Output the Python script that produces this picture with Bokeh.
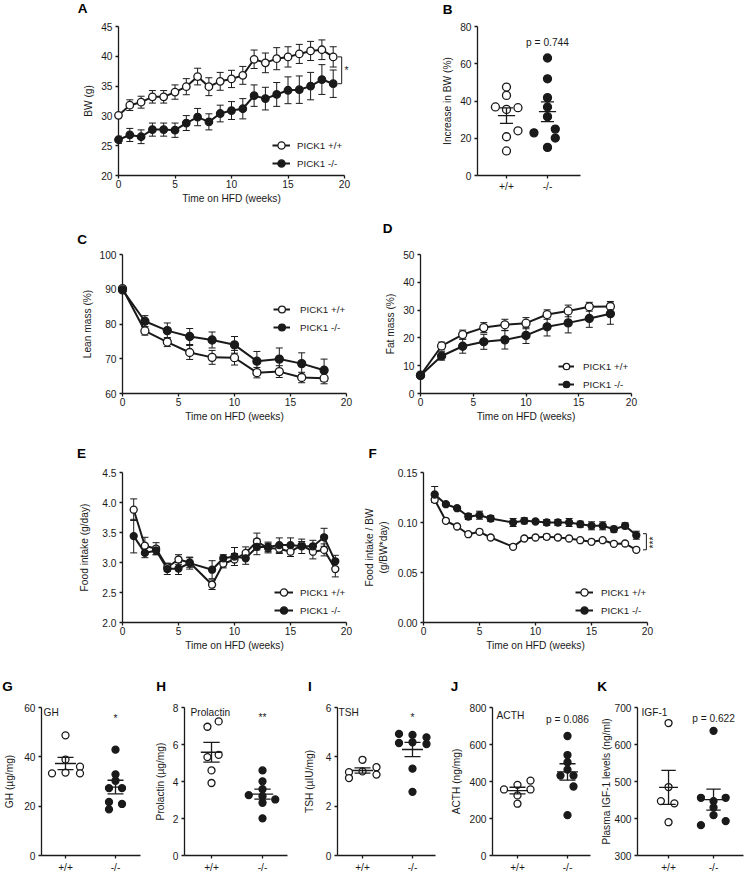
import math
import numpy as np
from bokeh.plotting import figure
from bokeh.models import (Range1d, FixedTicker, ColumnDataSource, Whisker, TeeHead,
                          Legend, LegendItem, NumeralTickFormatter)
from bokeh.core.properties import value
from bokeh.layouts import row, column
from bokeh.embed import file_html
from bokeh.resources import INLINE

FONT = "Liberation Sans"
FS = "10.2px"
LFS = "9.8px"
INK = "#1a1a1a"

# ---------------- data ----------------
series_names = ["PICK1 +/+", "PICK1 -/-"]
genotypes = ["+/+", "-/-"]

# A: body weight (g)
bw_weeks = [0, 1, 2, 3, 4, 5, 6, 7, 8, 9, 10, 11, 12, 13, 14, 15, 16, 17, 18, 19]
bw_wt = [30.1, 31.8, 32.3, 33.2, 33.2, 34.0, 34.9, 36.6, 34.9, 35.8, 36.2, 36.8, 39.5, 38.9, 39.6, 39.9, 40.4, 40.9, 41.1, 39.9]
bw_wt_sem = [0.4, 0.9, 1.0, 1.05, 1.05, 1.2, 1.35, 1.4, 1.5, 1.5, 1.45, 1.5, 1.55, 1.65, 1.85, 1.7, 1.6, 1.6, 1.65, 1.7]
bw_ko = [26.0, 26.8, 26.5, 27.7, 27.7, 27.6, 28.8, 29.8, 29.0, 30.4, 30.9, 31.2, 33.4, 32.9, 33.6, 34.3, 34.4, 35.0, 36.1, 35.4]
bw_ko_sem = [0.6, 1.1, 1.15, 1.1, 1.1, 1.2, 1.25, 1.45, 1.35, 1.4, 1.5, 1.7, 1.8, 1.9, 2.0, 2.25, 2.3, 2.3, 2.5, 2.3]

# B: increase in BW (%)
bwinc_wt = [47.5, 43.0, 36.8, 35.5, 36.4, 24.0, 20.8, 13.2]
bwinc_ko = [63.1, 51.9, 41.8, 36.8, 31.6, 24.9, 22.9, 20.1, 15.1]

# C: lean mass (%)
comp_weeks = [0, 2, 4, 6, 8, 10, 12, 14, 16, 18]
lean_wt = [90.2, 78.0, 74.8, 71.8, 70.4, 70.3, 66.0, 66.3, 64.6, 64.4]
lean_wt_sem = [0.5, 1.2, 1.3, 2.0, 2.0, 2.1, 1.5, 1.7, 1.5, 1.6]
lean_ko = [89.8, 80.8, 78.1, 76.4, 75.4, 74.0, 69.3, 69.9, 68.6, 66.7]
lean_ko_sem = [0.5, 1.6, 2.2, 2.3, 2.3, 2.4, 2.8, 3.2, 3.1, 3.2]

# D: fat mass (%)
fat_wt = [6.6, 17.1, 21.2, 23.7, 24.7, 25.3, 28.4, 29.7, 31.2, 31.3]
fat_wt_sem = [0.5, 1.4, 1.6, 1.8, 2.0, 2.0, 1.7, 2.1, 1.6, 1.8]
fat_ko = [6.5, 13.5, 17.0, 18.6, 19.3, 20.9, 24.0, 25.4, 27.0, 28.7]
fat_ko_sem = [0.5, 1.5, 2.5, 2.7, 3.3, 2.9, 3.3, 3.6, 3.2, 3.8]

# E: food intake (g/day)
food_weeks = [1, 2, 3, 4, 5, 6, 8, 9, 10, 11, 12, 13, 14, 15, 16, 17, 18, 19]
food_wt = [3.88, 3.28, 3.23, 2.92, 3.05, 3.00, 2.63, 2.98, 3.05, 3.16, 3.35, 3.24, 3.23, 3.18, 3.29, 3.18, 3.21, 2.89]
food_wt_sem = [0.18, 0.14, 0.10, 0.07, 0.08, 0.08, 0.08, 0.07, 0.10, 0.10, 0.14, 0.08, 0.08, 0.08, 0.06, 0.12, 0.10, 0.13]
food_ko = [3.44, 3.16, 3.20, 2.89, 2.90, 2.99, 2.88, 3.07, 3.10, 3.07, 3.26, 3.26, 3.29, 3.29, 3.27, 3.27, 3.42, 3.02]
food_ko_sem = [0.28, 0.08, 0.07, 0.09, 0.10, 0.10, 0.15, 0.06, 0.15, 0.10, 0.13, 0.08, 0.12, 0.12, 0.12, 0.10, 0.15, 0.10]

# F: food intake / BW
fbw_wt = [0.1227, 0.1017, 0.0960, 0.0883, 0.0907, 0.0850, 0.0757, 0.0840, 0.0850, 0.0857, 0.0850, 0.0840, 0.0823, 0.0807, 0.0823, 0.0787, 0.0790, 0.0727]
fbw_wt_sem = [0.0015, 0.001, 0.001, 0.001, 0.001, 0.001, 0.001, 0.001, 0.001, 0.0025, 0.002, 0.001, 0.001, 0.001, 0.001, 0.001, 0.001, 0.001]
fbw_ko = [0.1280, 0.1183, 0.1143, 0.1060, 0.1073, 0.1040, 0.1000, 0.1017, 0.1010, 0.1000, 0.1000, 0.1000, 0.0983, 0.0967, 0.0967, 0.0933, 0.0967, 0.0873]
fbw_ko_sem = [0.008, 0.0015, 0.0015, 0.003, 0.004, 0.003, 0.004, 0.003, 0.002, 0.003, 0.003, 0.004, 0.003, 0.004, 0.004, 0.003, 0.003, 0.004]

# G-K: pituitary hormones / plasma IGF-1
gh_wt = [48.7, 38.9, 33.3, 33.6, 36.0, 33.3]
gh_ko = [42.9, 32.9, 30.3, 27.3, 27.3, 21.7, 20.9, 18.7]
prl_wt = [6.96, 7.25, 5.32, 5.44, 4.60, 3.92]
prl_ko = [4.60, 4.01, 3.58, 3.26, 3.20, 3.03, 2.85, 2.01]
tsh_wt = [3.88, 3.38, 3.14, 3.41, 3.58, 3.28]
tsh_ko = [4.93, 4.89, 4.79, 4.56, 4.59, 4.52, 3.52, 2.58]
acth_wt = [382, 405, 357, 357, 325, 280]
acth_ko = [646, 543, 504, 432, 432, 464, 373, 218]
igf_wt = [658, 485, 447, 441, 390]
igf_ko = [637, 456, 456, 447, 430, 409, 382, 393]

# horizontal scatter (beeswarm) offsets of the dots, in category units (layout only)
bwinc_wt_dx = [0, 0, -0.27, 0, 0.28, 0.28, 0, 0]
bwinc_ko_dx = [0, 0, 0, 0, 0, 0.19, -0.33, 0.19, 0]
gh_wt_dx = [0, 0, -0.27, 0, 0.29, 0.29]
gh_ko_dx = [0, 0, 0, -0.13, 0.13, -0.13, 0.13, -0.13]
prl_wt_dx = [-0.08, 0.14, -0.08, 0.14, 0, 0]
prl_ko_dx = [0, 0, 0, -0.27, 0, 0.25, 0, 0]
tsh_wt_dx = [0, -0.27, -0.27, 0, 0.28, 0.28]
tsh_ko_dx = [-0.27, 0, 0.28, -0.27, 0, 0.28, 0, 0]
acth_wt_dx = [0, 0.26, -0.27, 0.26, 0, 0]
acth_ko_dx = [0, 0, 0, -0.14, 0.12, 0, 0.12, 0]
igf_wt_dx = [0, 0, -0.17, 0.13, 0]
igf_ko_dx = [0, -0.28, 0.27, 0, 0, 0, -0.28, 0.27]


# ---------------- helpers ----------------
FRAMES = {}


def make_fig(w, h, left, right, top, bottom, xr, yr, xticks, yticks,
             xlabel, ylabel, ylab_standoff, xlab_standoff=2, xlab_overrides=None,
             xtick_standoff=1):
    p = figure(width=w, height=h, output_backend="svg", toolbar_location=None,
               x_range=Range1d(*xr), y_range=Range1d(*yr),
               min_border_left=left, min_border_right=right,
               min_border_top=top, min_border_bottom=bottom)
    FRAMES[id(p)] = (w - left - right, h - top - bottom)
    p.outline_line_color = None
    p.xgrid.visible = False
    p.ygrid.visible = False
    p.background_fill_color = "white"
    p.border_fill_color = "white"
    p.xaxis.ticker = FixedTicker(ticks=xticks, minor_ticks=[])
    p.yaxis.ticker = FixedTicker(ticks=yticks, minor_ticks=[])
    for ax in (p.xaxis[0], p.yaxis[0]):
        ax.axis_line_color = INK
        ax.axis_line_width = 1.3
        ax.major_tick_line_color = INK
        ax.major_tick_line_width = 1.3
        ax.major_tick_out = 3
        ax.major_tick_in = 0
        ax.minor_tick_line_color = None
        ax.major_label_text_font = FONT
        ax.major_label_text_font_size = FS
        ax.major_label_text_color = INK
        ax.axis_label_text_font = FONT
        ax.axis_label_text_font_size = FS
        ax.axis_label_text_font_style = "normal"
        ax.axis_label_text_color = INK
        ax.major_label_standoff = 3
    p.xaxis[0].major_label_standoff = xtick_standoff
    if xlabel:
        p.xaxis[0].axis_label = xlabel
        p.xaxis[0].axis_label_standoff = xlab_standoff
    if ylabel:
        p.yaxis[0].axis_label = ylabel
        p.yaxis[0].axis_label_standoff = ylab_standoff
    if xlab_overrides:
        p.xaxis[0].major_label_overrides = xlab_overrides
    return p


def px_text(p, text, sx, sy, size=FS, bold=False, align="center", angle=0.0,
            x_data=None, y_data=None):
    """Text placed by pixel offset from the frame's bottom-left corner (unclipped)."""
    fw, fh = FRAMES[id(p)]
    xr, yr = p.x_range, p.y_range
    x = x_data if x_data is not None else xr.start + sx * (xr.end - xr.start) / fw
    y = y_data if y_data is not None else yr.start + sy * (yr.end - yr.start) / fh
    p.text(x=[x], y=[y], text=[text], text_font=value(FONT), text_font_size=value(size),
           text_font_style="bold" if bold else "normal", text_color="black" if bold else INK,
           text_align=align, text_baseline="middle", angle=angle, level="overlay")


def letter(p, text, sx, sy):
    px_text(p, text, sx, sy, size="13.5px", bold=True)


def time_series(p, x, wt, wt_err, ko, ko_err, msize):
    rends = []
    for y, e, filled in ((wt, wt_err, False), (ko, ko_err, True)):
        lo = [a - b for a, b in zip(y, e)]
        hi = [a + b for a, b in zip(y, e)]
        src = ColumnDataSource(dict(x=x, y=y, lo=lo, hi=hi))
        p.add_layout(Whisker(base="x", lower="lo", upper="hi", source=src,
                             line_color=INK, line_width=1,
                             upper_head=TeeHead(size=7, line_color=INK, line_width=1),
                             lower_head=TeeHead(size=7, line_color=INK, line_width=1)))
        lr = p.line("x", "y", source=src, line_color=INK, line_width=2)
        sr = p.scatter("x", "y", source=src, marker="circle", size=msize,
                       fill_color=INK if filled else "white", line_color=INK,
                       line_width=1.3, level="overlay")
        rends.append([lr, sr])
    return rends


def add_legend(p, rends, vx, vy, standoff, gw):
    leg = Legend(items=[LegendItem(label=series_names[0], renderers=rends[0]),
                        LegendItem(label=series_names[1], renderers=rends[1])],
                 location=(vx, vy), orientation="vertical", padding=0, margin=0,
                 spacing=-2, glyph_width=gw, glyph_height=18, label_height=18,
                 label_standoff=standoff, label_text_font=FONT,
                 label_text_font_size=LFS, label_text_color=INK,
                 border_line_alpha=0, background_fill_alpha=0)
    p.add_layout(leg)


def dot_groups(p, wt, wt_dx, ko, ko_dx, msize):
    for i, (vals, dx, filled) in enumerate(((wt, wt_dx, False), (ko, ko_dx, True))):
        c = i + 1
        xs = [c + d for d in dx]
        p.scatter(xs, vals, marker="circle", size=msize,
                  fill_color=INK if filled else "white", line_color=INK, line_width=1.3)
        m = float(np.mean(vals))
        s = float(np.std(vals, ddof=1) / math.sqrt(len(vals)))
        p.segment(x0=[c - 0.21, c - 0.16, c - 0.16, c], y0=[m, m + s, m - s, m - s],
                  x1=[c + 0.21, c + 0.16, c + 0.16, c], y1=[m, m + s, m - s, m + s],
                  line_color=INK, line_width=1.3)


cat_ticks = [1, 2]
cat_labels = {1: genotypes[0], 2: genotypes[1]}
XL = "Time on HFD (weeks)"

# ---------------- A ----------------
pA = make_fig(372, 213, 118, 28, 26, 38, (0, 20), (20, 45), [0, 5, 10, 15, 20],
              [20, 25, 30, 35, 40, 45], XL, "BW (g)", 4)
rA = time_series(pA, bw_weeks, bw_wt, bw_wt_sem, bw_ko, bw_ko_sem, 7.5)
add_legend(pA, rA, 154, 3, 7, 18)
pA.segment(x0=[19.75, 19.4, 19.4], y0=[bw_ko[-1], bw_wt[-1], bw_ko[-1]],
           x1=[19.75, 19.75, 19.75], y1=[bw_wt[-1], bw_wt[-1], bw_ko[-1]],
           line_color=INK, line_width=1)
px_text(pA, "*", 228, 0, y_data=(bw_wt[-1] + bw_ko[-1]) / 2)
letter(pA, "A", -36, 167)

# ---------------- B ----------------
pB = make_fig(373, 213, 105, 165, 25, 38, (0.293, 2.805), (0, 80), cat_ticks,
              [0, 20, 40, 60, 80], None, "Increase in BW (%)", 4, xlab_overrides=cat_labels,
              xtick_standoff=2)
dot_groups(pB, bwinc_wt, bwinc_wt_dx, bwinc_ko, bwinc_ko_dx, 8)
px_text(pB, "p = 0.744", 0, 134, x_data=2)
letter(pB, "B", -30, 167)

# ---------------- C ----------------
pC = make_fig(372, 219, 122, 26, 31, 39, (0, 20), (60, 100), [0, 5, 10, 15, 20],
              [60, 70, 80, 90, 100], XL, "Lean mass (%)", 4)
rC = time_series(pC, comp_weeks, lean_wt, lean_wt_sem, lean_ko, lean_ko_sem, 8)
add_legend(pC, rC, 151, 57, 10, 17)
letter(pC, "C", -40.5, 165)

# ---------------- D ----------------
pD = make_fig(373, 219, 48, 114, 41, 39, (0, 20), (0, 50), [0, 5, 10, 15, 20],
              [0, 10, 20, 30, 40, 50], XL, "Fat mass (%)", 4)
rD = time_series(pD, comp_weeks, fat_wt, fat_wt_sem, fat_ko, fat_ko_sem, 8)
add_legend(pD, rD, 138, 0, 9, 16)
letter(pD, "D", -33, 165)

# ---------------- E ----------------
pE = make_fig(354, 230, 122, 8, 40, 40, (0, 20), (2.0, 4.5), [0, 5, 10, 15, 20],
              [2.0, 2.5, 3.0, 3.5, 4.0, 4.5], XL, "Food intake (g/day)", 9)
pE.yaxis[0].formatter = NumeralTickFormatter(format="0.0")
rE = time_series(pE, food_weeks, food_wt, food_wt_sem, food_ko, food_ko_sem, 7)
add_legend(pE, rE, 152, 3, 7, 19)
letter(pE, "E", -41, 169)

# ---------------- F ----------------
pF = make_fig(391, 230, 69, 98, 40, 40, (0, 20), (0, 0.15), [0, 5, 10, 15, 20],
              [0, 0.05, 0.10, 0.15], XL, "(g/BW*day)", 6)
pF.yaxis[0].formatter = NumeralTickFormatter(format="0.00")
rF = time_series(pF, food_weeks, fbw_wt, fbw_wt_sem, fbw_ko, fbw_ko_sem, 7)
add_legend(pF, rF, 152, 3, 8, 18)
pF.segment(x0=[19.9, 19.6, 19.6], y0=[fbw_wt[-1], fbw_wt[-1], fbw_ko[-1] + 0.0015],
           x1=[19.9, 19.9, 19.9], y1=[fbw_ko[-1] + 0.0015, fbw_wt[-1], fbw_ko[-1] + 0.0015],
           line_color=INK, line_width=1)
px_text(pF, "***", 230, 0, y_data=(fbw_wt[-1] + fbw_ko[-1]) / 2, angle=math.pi / 2)
px_text(pF, "Food intake / BW", -54, 75, angle=math.pi / 2)
letter(pF, "F", -51, 169)

# ---------------- G-K ----------------
def hormone(w, left, right, xr, yr, yticks, ylabel, standoff, wt, wt_dx, ko, ko_dx,
            let, let_x, inner, inner_x, inner_y, sig, sig_y):
    p = make_fig(w, 213, left, right, 45, 18, xr, yr, cat_ticks, yticks, None, ylabel,
                 standoff, xlab_overrides=cat_labels, xtick_standoff=3)
    dot_groups(p, wt, wt_dx, ko, ko_dx, 7)
    letter(p, let, let_x, 171)
    px_text(p, inner, inner_x, inner_y, align="left")
    px_text(p, sig, 0, sig_y, x_data=2)
    return p

pG = hormone(147, 41, 7, (0.52, 2.5), (0, 60), [0, 20, 40, 60], "GH (µg/mg)", 6,
             gh_wt, gh_wt_dx, gh_ko, gh_ko_dx, "G", -34, "GH", 2, 145, "*", 139)
pH = hormone(145, 37, 5, (0.47, 2.49), (0, 8), [0, 2, 4, 6, 8], "Prolactin (µg/mg)", 4,
             prl_wt, prl_wt_dx, prl_ko, prl_ko_dx, "H", -23.5, "Prolactin", 6, 145, "**", 140)
pI = hormone(150, 45, 7, (0.5, 2.46), (0, 6), [0, 2, 4, 6], "TSH (µIU/mg)", 8,
             tsh_wt, tsh_wt_dx, tsh_ko, tsh_ko_dx, "I", -27.5, "TSH", 1, 145, "*", 140)
pJ = hormone(152, 50, 4, (0.5, 2.46), (0, 800), [0, 200, 400, 600, 800], "ACTH (ng/mg)", 5,
             acth_wt, acth_wt_dx, acth_ko, acth_ko_dx, "J", -38, "ACTH", 4, 142, "p = 0.086", 138)
pK = hormone(151, 43, 2, (0.31, 2.666), (300, 700), [300, 400, 500, 600, 700],
             "Plasma IGF-1 levels (ng/ml)", 0,
             igf_wt, igf_wt_dx, igf_ko, igf_ko_dx, "K", -35.5, "IGF-1", 4, 145, "p = 0.622", 139)

layout = column(row(pA, pB), row(pC, pD), row(pE, pF), row(pG, pH, pI, pJ, pK))

open("out.html", "w").write(file_html(layout, INLINE))
